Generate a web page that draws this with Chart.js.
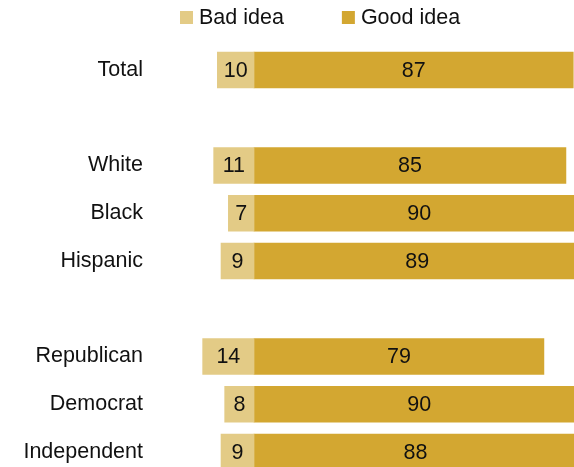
<!DOCTYPE html>
<html>
<head>
<meta charset="utf-8">
<script src="https://cdn.jsdelivr.net/npm/chart.js@4.4.0/dist/chart.umd.min.js"></script>
<style>
  html, body { margin: 0; padding: 0; background: #fff; }
  #wrap { width: 574px; height: 467px; }
</style>
</head>
<body>
<div id="wrap"><canvas id="bar-chart" width="574" height="467"></canvas></div>
<script>
// groups, blank rows separate the blocks
var categories = ["Total", "", "White", "Black", "Hispanic", "", "Republican", "Democrat", "Independent"];
var badIdea  = [10, null, 11, 7, 9, null, 14, 8, 9];
var goodIdea = [87, null, 85, 90, 89, null, 79, 90, 88];

var FONT = "'Liberation Sans', Arial, sans-serif";
var FS = 21.5;

// bad idea goes to the left of zero
var badLeft = badIdea.map(function (v) { return v === null ? null : -v; });

var valueLabels = {
  id: 'valueLabels',
  afterDatasetsDraw: function (chart) {
    var ctx = chart.ctx;
    ctx.save();
    ctx.font = FS + "px " + FONT;
    ctx.fillStyle = "#111";
    ctx.textAlign = "center";
    ctx.textBaseline = "middle";
    chart.data.datasets.forEach(function (ds, i) {
      chart.getDatasetMeta(i).data.forEach(function (bar, j) {
        var v = ds.data[j];
        if (v === null) return;
        ctx.fillText(Math.abs(v), (bar.x + bar.base) / 2, bar.y + 1);
      });
    });
    ctx.restore();
  }
};

// legend drawn by hand so spacing matches
var topLegend = {
  id: 'topLegend',
  afterDraw: function (chart) {
    var ctx = chart.ctx;
    ctx.save();
    ctx.font = FS + "px " + FONT;
    ctx.textBaseline = "middle";
    var x = 180;
    chart.data.datasets.forEach(function (ds) {
      ctx.fillStyle = ds.backgroundColor;
      ctx.fillRect(x, 11, 13, 13);
      ctx.fillStyle = "#111";
      ctx.fillText(ds.label, x + 19, 18);
      x += 19 + ctx.measureText(ds.label).width + 58;
    });
    ctx.restore();
  }
};

new Chart(document.getElementById("bar-chart"), {
  type: 'bar',
  data: {
    labels: categories,
    datasets: [{
        data: badLeft,
        label: "Bad idea",
        backgroundColor: "#E3CB86",
        barThickness: 36,
        clip: false
      }, {
        data: goodIdea,
        label: "Good idea",
        backgroundColor: "#D3A731",
        barThickness: 36,
        clip: false
      }
    ]
  },
  options: {
    indexAxis: 'y',
    responsive: false,
    animation: false,
    layout: { padding: { top: 70, bottom: 15, left: 0, right: 0 } },
    plugins: {
      legend: { display: false },
      tooltip: { enabled: false }
    },
    scales: {
      x: {
        stacked: true,
        display: false,
        min: -15,
        max: 87.2
      },
      y: {
        stacked: true,
        offset: false,
        grid: { display: false },
        border: { display: false },
        ticks: {
          padding: 48,
          color: "#111",
          font: { family: FONT, size: FS }
        },
        afterFit: function (scale) {
          scale.width = 199;
          scale.paddingTop = 0;
          scale.paddingBottom = 0;
        }
      }
    }
  },
  plugins: [valueLabels, topLegend]
});
</script>
</body>
</html>
